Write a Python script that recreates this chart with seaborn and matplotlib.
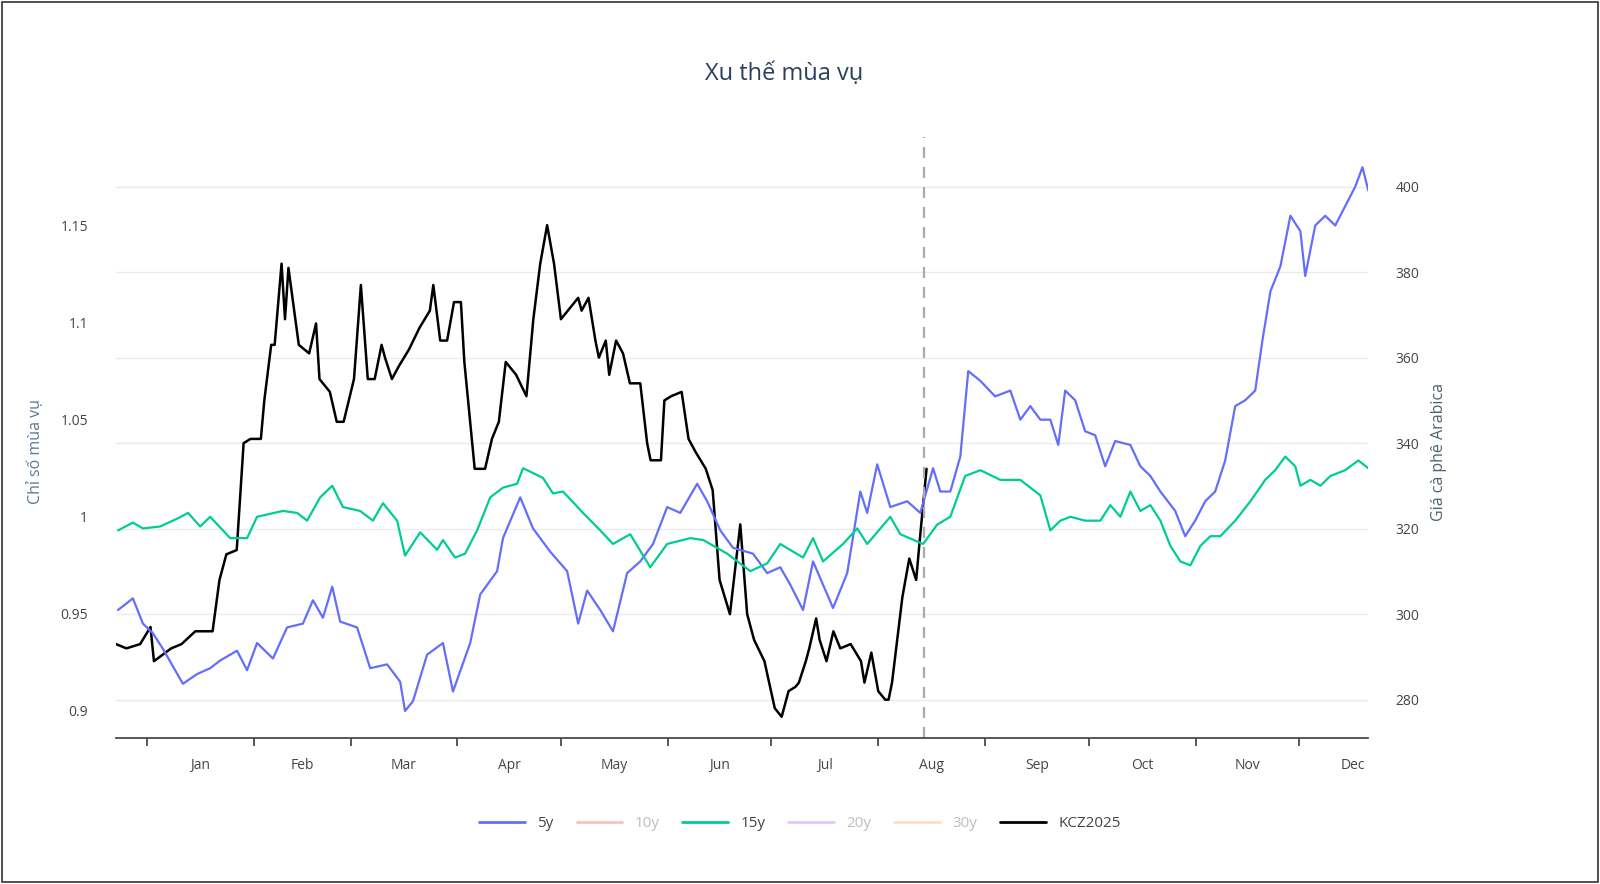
import numpy as np
import pandas as pd
import seaborn as sns
import matplotlib.pyplot as plt
from matplotlib.lines import Line2D

# day of year (0 = Jan 1)
day_5y = [-8.4, -4.1, -1.2, 1.7, 4.6, 10.4, 14.5, 18.3, 21.2, 26.1, 29, 31.9, 36.5, 40.6, 45.2, 48.1, 51, 53.7, 56,
          60.9, 64.7, 69.6, 73.4, 74.8, 77.1, 81.2, 85.8, 88.7, 93.7, 96.6, 101.5, 103.2, 108.2, 111.9, 116.9, 121.8,
          125, 127.6, 131.4, 135.1, 139.2, 143, 146.7, 150.8, 154.6, 159.5, 162.4, 166.2, 169.9, 175.7, 179.8, 183.6,
          186.5, 190.2, 193.1, 198.9, 203, 206.8, 208.8, 211.7, 215.5, 220.4, 224.2, 227.9, 230, 232.9, 235.8, 238.1,
          241.6, 245.9, 250.3, 253.2, 256.1, 259, 261.9, 264.2, 266.2, 269.1, 272, 274.9, 277.8, 280.7, 285.1, 288,
          290.9, 293.8, 298.1, 301, 303.9, 306.8, 309.7, 312.6, 315.5, 318.4, 321.3, 323.4, 325.7, 328.6, 331.5,
          334.4, 335.8, 338.7, 341.6, 344.5, 347.4, 350.3, 352.4, 354.1]
val_5y = [0.952, 0.958, 0.945, 0.94, 0.932, 0.914, 0.919, 0.922, 0.926, 0.931, 0.921, 0.935, 0.927, 0.943, 0.945,
          0.957, 0.948, 0.964, 0.946, 0.943, 0.922, 0.924, 0.915, 0.9, 0.905, 0.929, 0.935, 0.91, 0.935, 0.96, 0.972,
          0.989, 1.01, 0.994, 0.982, 0.972, 0.945, 0.962, 0.952, 0.941, 0.971, 0.977, 0.986, 1.005, 1.002, 1.017,
          1.008, 0.993, 0.984, 0.981, 0.971, 0.974, 0.965, 0.952, 0.977, 0.953, 0.971, 1.013, 1.002, 1.027, 1.005,
          1.008, 1.002, 1.025, 1.013, 1.013, 1.031, 1.075, 1.07, 1.062, 1.065, 1.05, 1.057, 1.05, 1.05, 1.037, 1.065,
          1.06, 1.044, 1.042, 1.026, 1.039, 1.037, 1.026, 1.021, 1.013, 1.003, 0.99, 0.998, 1.008, 1.013, 1.029,
          1.057, 1.06, 1.065, 1.091, 1.116, 1.129, 1.155, 1.147, 1.124, 1.15, 1.155, 1.15, 1.16, 1.17, 1.18, 1.168]

day_15y = [-8.4, -4.1, -1.2, 3.8, 8.7, 11.9, 15.4, 18.3, 24.1, 29, 31.9, 39.4, 43.5, 46.4, 50.2, 53.7, 56.8, 61.8,
           65.5, 68.4, 72.5, 74.8, 79.2, 84.1, 85.8, 89.3, 92.2, 95.7, 99.5, 103.2, 107.3, 109, 110.2, 114.8, 117.7,
           120.6, 126.4, 131.4, 135.1, 140.1, 145.9, 150.8, 157.5, 161.3, 168.2, 174.9, 179.8, 183.6, 190.2, 193.1,
           196, 201.8, 205.9, 208.8, 215.5, 218.4, 225, 229.1, 232.9, 237.2, 241.6, 247.4, 253.2, 259, 261.9, 264.8,
           267.7, 272, 276.4, 279.3, 282.2, 285.1, 288, 290.9, 293.8, 296.7, 299.6, 302.5, 305.4, 308.3, 311.2,
           315.5, 319.9, 324.2, 327.1, 330, 332.9, 334.4, 337.3, 340.2, 343.1, 347.4, 351.2, 354.1]
val_15y = [0.993, 0.997, 0.994, 0.995, 0.999, 1.002, 0.995, 1.0, 0.989, 0.989, 1.0, 1.003, 1.002, 0.998, 1.01,
           1.016, 1.005, 1.003, 0.998, 1.007, 0.998, 0.98, 0.992, 0.983, 0.988, 0.979, 0.981, 0.993, 1.01, 1.015,
           1.017, 1.025, 1.024, 1.02, 1.012, 1.013, 1.002, 0.993, 0.986, 0.991, 0.974, 0.986, 0.989, 0.988, 0.981,
           0.972, 0.976, 0.986, 0.979, 0.989, 0.977, 0.986, 0.994, 0.986, 1.0, 0.991, 0.986, 0.996, 1.0, 1.021,
           1.024, 1.019, 1.019, 1.011, 0.993, 0.998, 1.0, 0.998, 0.998, 1.006, 1.0, 1.013, 1.003, 1.006, 0.998,
           0.985, 0.977, 0.975, 0.985, 0.99, 0.99, 0.998, 1.008, 1.019, 1.024, 1.031, 1.026, 1.016, 1.019, 1.016,
           1.021, 1.024, 1.029, 1.025]

day_kcz = [-9, -6, -2, 1, 2, 7, 10, 14, 17, 19, 21, 23, 26, 28, 30, 33, 34, 36, 37, 39, 40, 41, 44, 47, 49, 50, 53,
           55, 57, 60, 62, 64, 66, 68, 69, 71, 73, 76, 79, 82, 83, 85, 87, 89, 91, 92, 95, 98, 100, 102, 104, 107,
           110, 112, 114, 116, 118, 120, 123, 125, 126, 128, 130, 131, 133, 134, 136, 138, 140, 143, 145, 146, 149,
           150, 152, 155, 157, 159, 162, 164, 166, 169, 172, 174, 176, 179, 182, 184, 186, 188, 189, 191, 192, 194,
           195, 197, 199, 201, 204, 207, 208, 210, 212, 214, 215, 216, 219, 221, 223, 224, 226]
price_kcz = [293, 292, 293, 297, 289, 292, 293, 296, 296, 296, 308, 314, 315, 340, 341, 341, 350, 363, 363, 382, 369,
             381, 363, 361, 368, 355, 352, 345, 345, 355, 377, 355, 355, 363, 360, 355, 358, 362, 367, 371, 377, 364,
             364, 373, 373, 359, 334, 334, 341, 345, 359, 356, 351, 369, 382, 391, 382, 369, 372, 374, 371, 374, 364,
             360, 364, 356, 364, 361, 354, 354, 340, 336, 336, 350, 351, 352, 341, 338, 334, 329, 308, 300, 321, 300,
             294, 289, 278, 276, 282, 283, 284, 289, 292, 299, 294, 289, 296, 292, 293, 289, 284, 291, 282, 280, 280,
             284, 304, 313, 308, 317, 334]

month_start = [0, 31, 59, 90, 120, 151, 181, 212, 243, 273, 304, 334]
month_names = ["Jan", "Feb", "Mar", "Apr", "May", "Jun", "Jul", "Aug", "Sep", "Oct", "Nov", "Dec"]
today = 225.3

sns.set_theme(style="white")
plt.rcParams['font.family'] = ['Open Sans', 'DejaVu Sans']

fig = plt.figure(figsize=(16, 8.84), dpi=100)
fig.subplots_adjust(left=0.0725, right=0.855, top=0.813, bottom=0.165)
ax = fig.add_subplot(111)
ax2 = ax.twinx()

blue, green = "#636efa", "#00cc96"
sns.lineplot(x=day_5y, y=val_5y, ax=ax, color=blue, lw=1.6)
sns.lineplot(x=day_15y, y=val_15y, ax=ax, color=green, lw=1.6)
sns.lineplot(x=day_kcz, y=price_kcz, ax=ax2, color="black", lw=1.8)

ax.set_xlim(-9, 354)
ax.set_ylim(0.886, 1.181)
ax2.set_ylim(271, 405)
ax.set_yticks([0.9, 0.95, 1, 1.05, 1.1, 1.15])
ax.set_yticklabels(["0.9", "0.95", "1", "1.05", "1.1", "1.15"])
ax2.set_yticks([280, 300, 320, 340, 360, 380, 400])
ax2.grid(True, axis="y", color="#ebebeb", lw=1)
ax.grid(False)
ax2.set_zorder(0)
ax.set_zorder(1)
ax.patch.set_visible(False)

ax.set_xticks(month_start)
ax.set_xticklabels([])
ax.tick_params(axis="x", length=6, color="#444", direction="out", bottom=True)
mid = [(month_start[i] + (month_start[i + 1] if i < 11 else 365)) / 2 for i in range(12)]
for m, name in zip(mid, month_names):
    ax.text(m, -0.035, name, transform=ax.get_xaxis_transform(), ha="center", va="top", fontsize=10, color="#444")

ax.axvline(today, color="#aaaaaa", ls=(0, (5, 4)), lw=1.6, ymax=1.05, clip_on=False)

for a in (ax, ax2):
    for s in a.spines.values():
        s.set_visible(False)
    a.tick_params(axis="y", length=0, labelsize=10, labelcolor="#444", pad=20)
ax.spines["bottom"].set_visible(True)
ax.spines["bottom"].set_color("#444")

ax.set_ylabel("Chỉ số mùa vụ", fontsize=11.5, color="#5a7a9a", labelpad=12)
ax2.set_ylabel("Giá cà phê Arabica", fontsize=11.5, color="#506070", labelpad=8)
fig.suptitle("Xu thế mùa vụ", x=0.49, y=0.93, fontsize=17, color="#2a3f5f")

handles = [Line2D([], [], color=blue, lw=2),
           Line2D([], [], color="#EF553B", lw=2, alpha=0.35),
           Line2D([], [], color=green, lw=2),
           Line2D([], [], color="#ab63fa", lw=2, alpha=0.35),
           Line2D([], [], color="#FFA15A", lw=2, alpha=0.35),
           Line2D([], [], color="black", lw=2)]
labels = ["5y", "10y", "15y", "20y", "30y", "KCZ2025"]
leg = fig.legend(handles, labels, loc="center", bbox_to_anchor=(0.5, 0.068), ncol=6, frameon=False,
                 fontsize=11, handlelength=3, columnspacing=1.5)
for t, a in zip(leg.get_texts(), [1, 0.35, 1, 0.35, 0.35, 1]):
    t.set_color("#444")
    t.set_alpha(a)

fig.patches.append(plt.Rectangle((0.001, 0.002), 0.998, 0.996, transform=fig.transFigure,
                                 fill=False, edgecolor="#333", lw=1.2))
fig.savefig("out.png", dpi=100)
